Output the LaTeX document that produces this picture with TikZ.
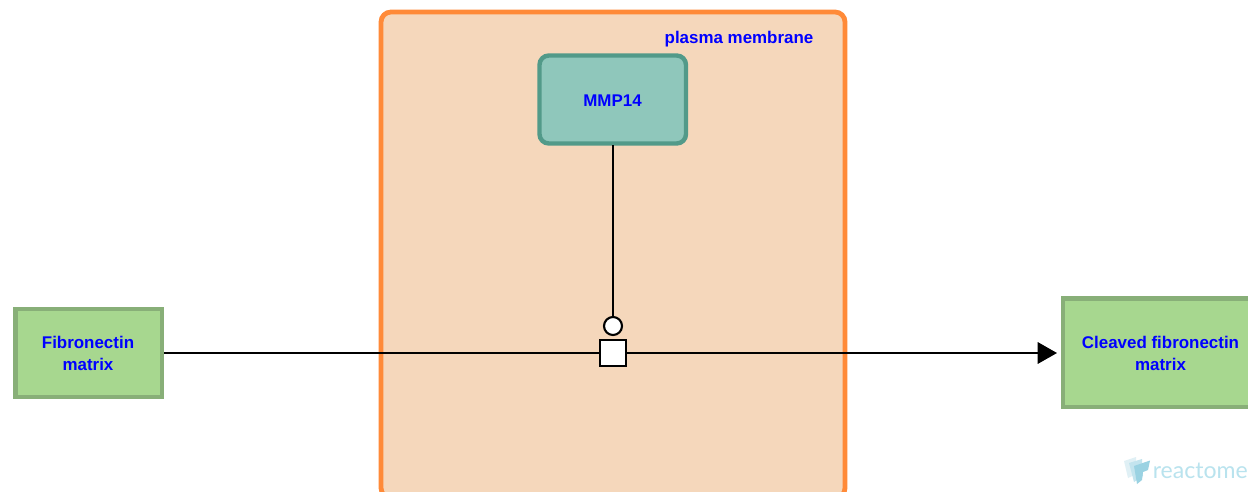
\documentclass[tikz,border=0pt]{standalone}
\usepackage{fontspec}
\setmainfont{Liberation Sans}
\newfontfamily\logofont{Lato}
\usetikzlibrary{arrows.meta}
\definecolor{compfill}{HTML}{F5D7BB}
\definecolor{compline}{HTML}{FF8A38}
\definecolor{protfill}{HTML}{8FC7BB}
\definecolor{protline}{HTML}{529A89}
\definecolor{cplxfill}{HTML}{A7D78F}
\definecolor{cplxline}{HTML}{88AF78}
\definecolor{logoa}{HTML}{E0F0F5}
\definecolor{logob}{HTML}{C3E4EE}
\definecolor{logoc}{HTML}{9AD2E2}
\definecolor{logotext}{HTML}{B9E3EE}
\tikzset{
  x=0.75pt,y=-0.75pt,
  label text/.style={text=blue,font=\bfseries\fontsize{12.7pt}{16.5pt}\selectfont,align=center,inner sep=0pt},
  compartment/.style={draw=compline,fill=compfill,line width=3.6pt,rounded corners=7.5pt},
  protein/.style={draw=protline,fill=protfill,line width=3.3pt,rounded corners=7pt},
  complexbox/.style={draw=cplxline,fill=cplxfill,line width=3.4pt},
  wire/.style={draw=black,line width=1.75pt},
  reaction/.style={draw=black,fill=white,line width=1.6pt,inner sep=0pt,minimum size=19.5pt,shape=rectangle},
  catalyst/.style={draw=black,fill=white,line width=1.6pt,inner sep=0pt,minimum size=13.5pt,shape=circle},
}
\begin{document}
\begin{tikzpicture}
\useasboundingbox (0,0) rectangle (1248,492);
\clip (0,0) rectangle (1248,492);
\fill[white] (0,0) rectangle (1248,492);
% compartment
\path[compartment] (381,12) rectangle (845,498);
\node[label text,anchor=center] (pm) at (739,39.5) {plasma membrane};
% entities
\path[protein] (539.5,55.5) rectangle (686,143.5);
\node[label text] (mmp) at (612.5,100.5) {MMP14};
\coordinate (mmpb) at (613,145);
\path[complexbox] (15.5,309) rectangle (162,397);
\node[label text] (fn) at (88,353.5) {Fibronectin\\matrix};
\coordinate (fnr) at (164,353);
\path[complexbox] (1063,298.5) rectangle (1270,407);
\node[label text] (cfn) at (1160.5,353.5) {Cleaved fibronectin\\matrix};
\coordinate (cfnl) at (1057,353);
% connectors
\node[reaction] (rx) at (613,353) {};
\node[catalyst] (cat) at (613,326) {};
\draw[wire] (fnr) -- (rx);
\draw[wire,-{Triangle[length=14.5pt,width=16pt]}] (rx) -- (cfnl);
\draw[wire] (mmpb) -- (cat);
% logo
\fill[logoa] (1124,461) -- (1136,457) -- (1137,474) -- (1128,478) -- cycle;
\fill[logob] (1129,463) -- (1142,459) -- (1143,476) -- (1134,482) -- cycle;
\fill[logoc] (1134,466) -- (1150,460.5) -- (1148,470) -- (1143,472) -- (1142,480) -- (1137,484) -- cycle;
\node[text=logotext,font=\logofont\fontsize{17.3pt}{18pt}\selectfont,anchor=base west,inner sep=0pt] (logo) at (1152.5,478) {reactome};
\end{tikzpicture}
\end{document}
